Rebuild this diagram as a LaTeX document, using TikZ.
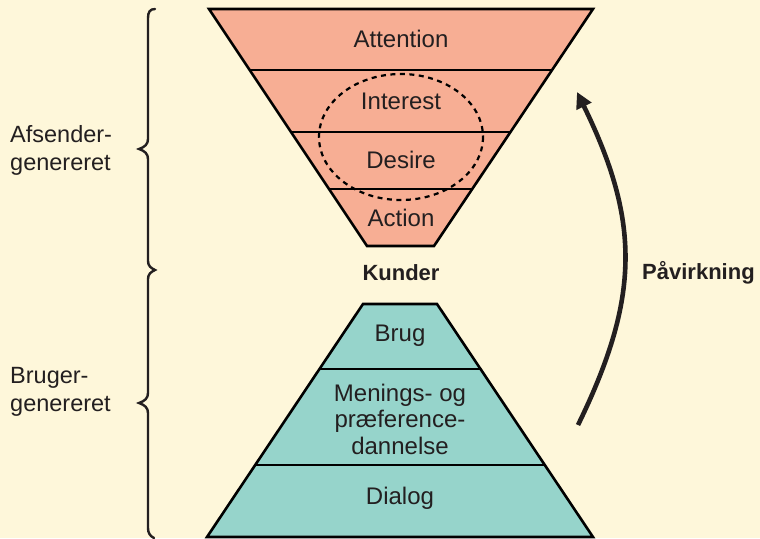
\documentclass[tikz,border=0pt]{standalone}
\usepackage{fontspec}
\setmainfont{Liberation Sans}
\usetikzlibrary{arrows.meta,calc}

\definecolor{paper}{HTML}{FEF7DA}
\definecolor{salmon}{HTML}{F7AE94}
\definecolor{teal}{HTML}{96D4CB}
\definecolor{ink}{HTML}{231F20}

\tikzset{
  stage/.style={font=\fontsize{24}{26.5}\selectfont, text=ink, align=center, inner sep=0pt},
  side/.style={font=\fontsize{23.5}{28}\selectfont, text=ink, align=left, anchor=west, inner sep=0pt},
  boldlabel/.style={font=\fontsize{22}{26}\selectfont\bfseries, text=ink, inner sep=0pt},
  outline/.style={draw=black, line width=2.6pt, line join=miter},
  divider/.style={draw=black, line width=2.3pt},
  bracket/.style={draw=ink, line width=2.4pt, line cap=round},
  push/.style={draw=ink, line width=4.6pt, -{Triangle[length=16pt,width=16pt]}},
}

\begin{document}
\begin{tikzpicture}[x=1pt, y=-1pt]
  % page
  \fill[paper] (0,0) rectangle (760,538);
  \useasboundingbox (0,0) rectangle (760,538);

  % funnel corners
  \coordinate (fTL) at (209,9);
  \coordinate (fTR) at (593,9);
  \coordinate (fBR) at (434,246);
  \coordinate (fBL) at (367,246);

  % pyramid corners
  \coordinate (pTL) at (363,304);
  \coordinate (pTR) at (437,304);
  \coordinate (pBR) at (593,537);
  \coordinate (pBL) at (207,537);

  % funnel
  \fill[salmon] (fTL) -- (fTR) -- (fBR) -- (fBL) -- cycle;
  \foreach \t in {0.2574,0.519,0.7595}
    \draw[divider] ($(fTL)!\t!(fBL)$) -- ($(fTR)!\t!(fBR)$);
  \draw[outline] (fTL) -- (fTR) -- (fBR) -- (fBL) -- cycle;

  % pyramid
  \fill[teal] (pTL) -- (pTR) -- (pBR) -- (pBL) -- cycle;
  \foreach \t in {0.279,0.691}
    \draw[divider] ($(pTL)!\t!(pBL)$) -- ($(pTR)!\t!(pBR)$);
  \draw[outline] (pTL) -- (pTR) -- (pBR) -- (pBL) -- cycle;

  % dashed ring around interest and desire
  \draw[black, line width=2.2pt, dash pattern=on 5pt off 4.5pt] (401,137) ellipse [x radius=82, y radius=63];

  % funnel stages
  \node[stage] (attention) at (401,39) {Attention};
  \node[stage] (interest)  at (401,101) {Interest};
  \node[stage] (desire)    at (401,160) {Desire};
  \node[stage] (action)    at (401,218) {Action};

  % pyramid stages
  \node[stage] (brug)   at (400,336) {Brug};
  \node[stage] (mening) at (400,419) {Menings- og\\præference-\\dannelse};
  \node[stage] (dialog) at (400,498) {Dialog};

  % centre and side labels
  \node[boldlabel] (kunder) at (401,273) {Kunder};
  \node[boldlabel, anchor=west] (paavirk) at (642,273) {Påvirkning};
  \node[side] (afsender) at (10,150) {Afsender-\\genereret};
  \node[side] (bruger)   at (10,392) {Bruger-\\genereret};

  % braces
  \draw[bracket]
    (155,9) .. controls (150,9) and (148,12) .. (148,18)
    -- (148,139) .. controls (148,144) and (145,147) .. (139,149)
    .. controls (145,151) and (148,154) .. (148,159)
    -- (148,261) .. controls (148,266) and (151,268) .. (155,270)
    .. controls (151,272) and (148,274) .. (148,279)
    -- (148,393) .. controls (148,398) and (145,401) .. (139,403)
    .. controls (145,405) and (148,408) .. (148,413)
    -- (148,528) .. controls (148,533) and (150,536) .. (154,538);

  % influence arrow
  \coordinate (arrFrom) at (578,425);
  \coordinate (arrTo) at (577,92);
  \draw[push] (arrFrom) to[out=64, in=-64, looseness=1.1] (arrTo);
\end{tikzpicture}
\end{document}
